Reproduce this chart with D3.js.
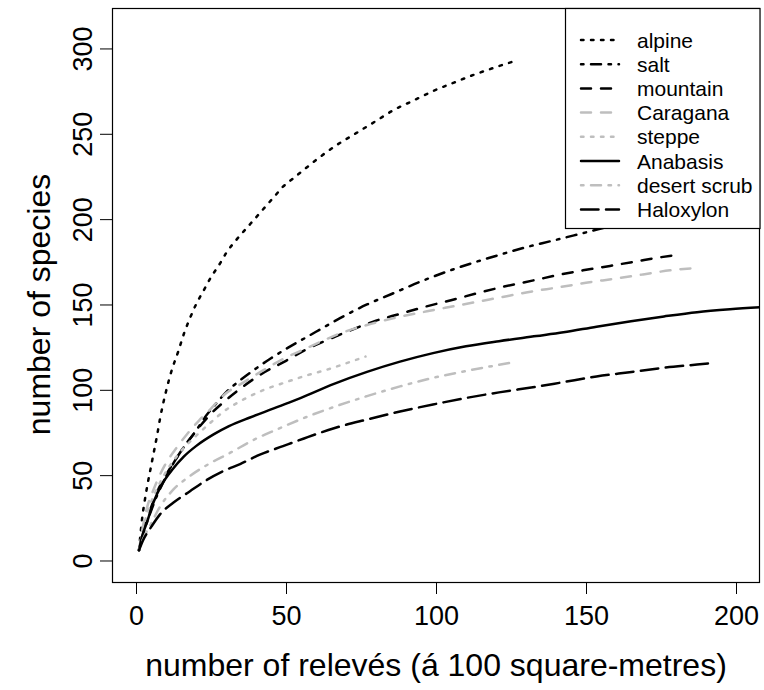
<!DOCTYPE html>
<html><head><meta charset="utf-8">
<script src="https://cdn.jsdelivr.net/npm/d3@7"></script>
<style>body{margin:0;background:#fff}svg{display:block}text{font-family:"Liberation Sans",Arial,Helvetica,sans-serif;fill:#000}</style>
</head><body>
<script>
// ---- data ----
const categories = ["alpine","salt","mountain","Caragana","steppe","Anabasis","desert scrub","Haloxylon"];
const alpine = [[1,6],[2,24],[3,36],[4,46],[5,55],[6,64],[7,73],[8,83],[10,99],[12,112],[14,122],[16,133],[18,142],[20,150],[22.5,158],[25,166],[28,174],[30,180],[33.5,188],[37,195],[40,201],[43,207],[46,213],[49,219],[52.5,224],[56,229],[61,236],[67,243.5],[73.5,250.5],[80,257.5],[86,264],[92.5,269.5],[99,275],[106,280],[112.5,284.5],[119,288.5],[126,292.5]];
const salt = [[1,6],[2,13],[3,19],[5,29],[7,38],[10,49],[13.5,60],[17,69],[20,76],[23,84],[26,90.5],[30,98.5],[35,106],[40,112.5],[45,118.5],[51,125],[57,131],[60,134],[68,142],[77,150],[85,156],[95,163.5],[104,169.5],[112.5,174.5],[121,179],[131,184],[138,187],[146,190.5],[154,194],[162,197.5],[170,200.5]];
const mountain = [[1,6],[2,14],[3,21],[5,31],[7,40],[10,50],[13.5,60],[17,69],[21,78],[25,86],[30,94],[35,101],[42,109.5],[50,117],[56,123],[63.5,129],[71,134.5],[80,140.5],[88,144.5],[96,148.5],[105,152.5],[113.5,156.5],[121,159.8],[133.5,164.5],[140,167],[149,170],[158,172.6],[167,175.3],[173.5,177.3],[179,178.7]];
const caragana = [[1,6],[2,17],[3,26],[4,33],[5.5,40],[7,46.5],[10,57],[13.5,66],[17,74],[21,82],[25,89],[29,96.5],[36,104.5],[42.5,111.5],[49,118],[57,124.5],[62,128.5],[68,133],[77,138],[86,142],[97,146],[106,149],[115,152],[124,155],[132.5,157.8],[140,159.8],[150,162.7],[160,165.2],[169,167.6],[178,170],[185.5,171.2]];
const steppe = [[1,6],[2,15],[3,23],[5,34],[7,42],[10,52],[14,62],[20,73],[25,81],[29,87],[36,94.5],[42,99.5],[50,104.5],[57,108.5],[64,112],[70,115.5],[76.5,119.5]];
const anabasis = [[1,6],[2,14],[3.6,22],[5.8,34],[8.6,44.5],[12,53],[16,61],[20,67],[26,74],[31,78.7],[38,83.8],[45,88.5],[51,92.5],[55,95.3],[66,103.5],[77,110.5],[88,116.5],[99,121.5],[110,125.5],[121,128.5],[133.5,131.5],[142.5,133.7],[153.5,137],[165,140.2],[176,143],[187,145.5],[198,147.2],[210,148.6]];
const desertScrub = [[1,6],[2,11],[3,15],[4.7,20.5],[8,31.5],[12.4,41.5],[18,49.5],[24.7,57],[31.3,63],[39,70.5],[47,76.8],[56,83.5],[66,90],[77,96.3],[88,102],[99,107],[110,111],[124.7,115.8]];
const haloxylon = [[1,6],[2.4,12],[5.2,20],[8,27],[12.4,33.8],[18,40.6],[23.6,47.2],[29,52.3],[34.7,56.5],[41.3,62],[49,67],[56,71.5],[66,77.5],[77,82.6],[88,87.3],[99,91.4],[110,95.2],[121,98.5],[133.5,101.8],[142.5,104.5],[153.5,107.8],[164.5,110.3],[176,112.9],[187,114.8],[193,115.8]];
const seriesValues = [alpine, salt, mountain, caragana, steppe, anabasis, desertScrub, haloxylon];
const xTicks = [0,50,100,150,200];
const yTicks = [0,50,100,150,200,250,300];
const xTitle = "number of relevés (á 100 square-metres)";
const yTitle = "number of species";

// ---- styles ----
const LW = 2.5;
const GRAY = "#bebebe";
const dot = [1*LW,3*LW].join(","), dash = [4*LW,4*LW].join(","),
      dotdash = [1*LW,3*LW,4*LW,3*LW].join(","), longdash = [7*LW,3*LW].join(",");
const styles = [
  {c:"#000", d:dot}, {c:"#000", d:dotdash}, {c:"#000", d:dash}, {c:GRAY, d:dash},
  {c:GRAY, d:dot}, {c:"#000", d:null}, {c:GRAY, d:dotdash}, {c:"#000", d:longdash}
];

const W = 764, H = 690;
const L = 112, R = 760, T = 8, B = 582;
const x = d3.scaleLinear().domain([-8, 208]).range([L, R]);
const y = d3.scaleLinear().domain([-12.6, 323.7]).range([B, T]);

const svg = d3.select("body").append("svg").attr("width", W).attr("height", H);
svg.append("defs").append("clipPath").attr("id","clip")
  .append("rect").attr("x",L).attr("y",T).attr("width",R-L).attr("height",B-T);

const line = d3.line().x(d=>x(d[0])).y(d=>y(d[1])).curve(d3.curveMonotoneX);
const g = svg.append("g").attr("clip-path","url(#clip)");
seriesValues.forEach((s,i)=>{
  g.append("path").attr("d", line(s)).attr("fill","none")
    .attr("stroke", styles[i].c).attr("stroke-width", LW)
    .attr("stroke-linecap","round").attr("stroke-linejoin","round")
    .attr("stroke-dasharray", styles[i].d);
});

// axes
const xAxis = d3.axisBottom(x).tickValues(xTicks).tickSize(12).tickPadding(8);
const gx = svg.append("g").attr("transform",`translate(0,${B})`).call(xAxis);
gx.select(".domain").remove();
gx.selectAll("line").attr("stroke","#000");
gx.selectAll("text").attr("font-size",27).attr("dy",null).attr("y",43).attr("fill","#000")
  .style("font-family","'Liberation Sans',Arial,sans-serif");

const yAxis = d3.axisLeft(y).tickValues(yTicks).tickSize(12);
const gy = svg.append("g").attr("transform",`translate(${L},0)`).call(yAxis);
gy.select(".domain").remove();
gy.selectAll("line").attr("stroke","#000");
gy.selectAll("text").attr("font-size",27).attr("x",null).attr("dy",null)
  .attr("text-anchor","middle").attr("fill","#000")
  .attr("transform","translate(-20,0) rotate(-90)")
  .style("font-family","'Liberation Sans',Arial,sans-serif");

// box
svg.append("rect").attr("x",L+0.5).attr("y",T+0.5).attr("width",R-L-1).attr("height",B-T)
  .attr("fill","none").attr("stroke","#000").attr("stroke-width",1.2);

// titles
svg.append("text").attr("x",(x(0)+x(200))/2).attr("y",676).attr("text-anchor","middle")
  .attr("font-size",32).text(xTitle);
svg.append("text").attr("transform",`translate(50,${(y(0)+y(300))/2}) rotate(-90)`)
  .attr("text-anchor","middle").attr("font-size",32).text(yTitle);

// legend
const lg = svg.append("g");
lg.append("rect").attr("x",565.5).attr("y",T+0.5).attr("width",R-565.5).attr("height",220)
  .attr("fill","#fff").attr("stroke","#000").attr("stroke-width",1.2);
categories.forEach((c,i)=>{
  const yy = 40 + i*24.2;
  lg.append("line").attr("x1",581).attr("x2",619).attr("y1",yy).attr("y2",yy)
    .attr("stroke",styles[i].c).attr("stroke-width",LW).attr("stroke-linecap","round")
    .attr("stroke-dasharray",styles[i].d);
  lg.append("text").attr("x",637).attr("y",yy+7.5).attr("font-size",21).text(c);
});
</script>
</body></html>
